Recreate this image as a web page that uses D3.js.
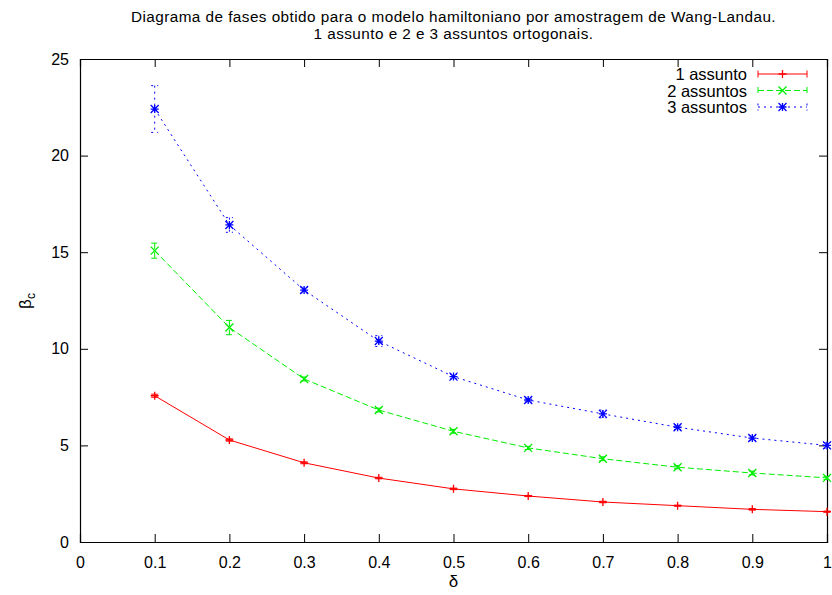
<!DOCTYPE html>
<html>
<head>
<meta charset="utf-8">
<script src="https://cdn.jsdelivr.net/npm/d3@7"></script>
<style>
  body { margin: 0; background: #fff; }
  text { font-family: "Liberation Sans", Arial, sans-serif; fill: #000; }
</style>
</head>
<body>
<div id="chart"></div>
<script>
const deltas = [0.1, 0.2, 0.3, 0.4, 0.5, 0.6, 0.7, 0.8, 0.9, 1.0];

const beta1 = [7.57, 5.28, 4.10, 3.31, 2.75, 2.38, 2.07, 1.88, 1.69, 1.57];
const err1 = [0.08, 0.06, 0.05, 0.04, 0.04, 0.03, 0.04, 0.03, 0.04, 0.03];

const beta2 = [15.08, 11.10, 8.44, 6.83, 5.73, 4.87, 4.31, 3.87, 3.57, 3.32];
const err2 = [0.39, 0.37, 0.10, 0.10, 0.10, 0.08, 0.10, 0.08, 0.10, 0.08];

const beta3 = [22.41, 16.41, 13.04, 10.40, 8.56, 7.35, 6.63, 5.94, 5.38, 5.00];
const err3 = [1.21, 0.38, 0.14, 0.28, 0.12, 0.10, 0.20, 0.12, 0.12, 0.15];

const seriesNames = ['1 assunto', '2 assuntos', '3 assuntos'];
const xTicks = [0, 0.1, 0.2, 0.3, 0.4, 0.5, 0.6, 0.7, 0.8, 0.9, 1];
const yTicks = [0, 5, 10, 15, 20, 25];
const titleLines = [
    'Diagrama de fases obtido para o modelo hamiltoniano por amostragem de Wang-Landau.',
    '1 assunto e 2 e 3 assuntos ortogonais.'
];

const width = 832;
const height = 595;
const margin = { top: 59, right: 5, bottom: 53, left: 80 };
const tickLen = 8;
const cap = 3.5;

const styles = [
    { color: '#ff0000', dash: null, symbol: 'plus' },
    { color: '#00ee00', dash: '6,3', symbol: 'cross' },
    { color: '#0000ff', dash: '2,4', symbol: 'star' }
];

const series = [
    { name: seriesNames[0], values: beta1, errors: err1 },
    { name: seriesNames[1], values: beta2, errors: err2 },
    { name: seriesNames[2], values: beta3, errors: err3 }
];

const chartWidth = width - margin.left - margin.right;
const chartHeight = height - margin.top - margin.bottom;

const x = d3.scaleLinear().domain([0, 1]).range([0, chartWidth]);
const y = d3.scaleLinear().domain([0, 25]).range([chartHeight, 0]);

const svg = d3.select('#chart')
  .append('svg')
    .attr('width', width)
    .attr('height', height);

// title
svg.append('g').selectAll('text')
    .data(titleLines)
  .enter().append('text')
    .attr('x', margin.left + chartWidth / 2)
    .attr('y', function (d, i) { return 22 + i * 16.5; })
    .attr('text-anchor', 'middle')
    .style('font-size', '15.3px')
    .style('letter-spacing', '0.45px')
    .text(function (d) { return d; });

const g = svg.append('g')
    .attr('transform', `translate(${margin.left}, ${margin.top})`);

// axes with mirrored inward ticks
g.append('g')
    .attr('transform', `translate(0, ${chartHeight})`)
    .call(d3.axisBottom(x).tickValues(xTicks).tickSize(-tickLen).tickPadding(tickLen + 7)
        .tickFormat(function (d) { return d3.format('')(d); }));
g.append('g')
    .call(d3.axisTop(x).tickValues(xTicks).tickSize(-tickLen).tickFormat(''));
g.append('g')
    .call(d3.axisLeft(y).tickValues(yTicks).tickSize(-tickLen).tickPadding(tickLen + 3));
g.append('g')
    .attr('transform', `translate(${chartWidth}, 0)`)
    .call(d3.axisRight(y).tickValues(yTicks).tickSize(-tickLen).tickFormat(''));

g.selectAll('.domain').attr('stroke', '#000').attr('stroke-width', 1.2);
g.selectAll('.tick line').attr('stroke', '#000');
g.selectAll('.tick text').style('font-size', '16px')
    .style('font-family', '"Liberation Sans", Arial, sans-serif');

// the border already covers the corner ticks
g.selectAll('.tick')
    .filter(function (d) { return d === 0 || d === 1 || d === 25; })
    .select('line').remove();

// axis labels
svg.append('text')
    .attr('x', margin.left + chartWidth / 2)
    .attr('y', 587)
    .attr('text-anchor', 'middle')
    .style('font-size', '17px')
    .text('δ');

const yl = svg.append('text')
    .attr('transform', 'translate(31, 301) rotate(-90)')
    .attr('text-anchor', 'middle')
    .style('font-size', '17px');
yl.append('tspan').text('β');
yl.append('tspan').attr('dy', 4).style('font-size', '12px').text('c');

function symbolPath(type, cx, cy, r) {
    const p = d3.path();
    if (type === 'plus' || type === 'star') {
        p.moveTo(cx - r, cy); p.lineTo(cx + r, cy);
        p.moveTo(cx, cy - r); p.lineTo(cx, cy + r);
    }
    if (type === 'cross' || type === 'star') {
        p.moveTo(cx - r, cy - r); p.lineTo(cx + r, cy + r);
        p.moveTo(cx - r, cy + r); p.lineTo(cx + r, cy - r);
    }
    return p.toString();
}

const line = d3.line()
    .x(function (d) { return x(d[0]); })
    .y(function (d) { return y(d[1]); });

series.forEach(function (s, k) {
    const st = styles[k];
    const pts = deltas.map(function (d, i) { return [d, s.values[i], s.errors[i]]; });
    const sg = g.append('g');

    sg.append('path')
        .datum(pts)
        .attr('d', line)
        .attr('fill', 'none')
        .attr('stroke', st.color)
        .attr('stroke-width', 1)
        .attr('stroke-dasharray', st.dash);

    // error bars
    sg.selectAll('.err')
        .data(pts)
      .enter().append('path')
        .attr('d', function (d) {
            const px = x(d[0]);
            const top = y(d[1] + d[2]);
            const bot = y(d[1] - d[2]);
            return `M${px},${top}V${bot}M${px - cap},${top}H${px + cap}M${px - cap},${bot}H${px + cap}`;
        })
        .attr('fill', 'none')
        .attr('stroke', st.color)
        .attr('stroke-width', 1)
        .attr('stroke-dasharray', st.dash);

    // points
    sg.selectAll('.pt')
        .data(pts)
      .enter().append('path')
        .attr('d', function (d) { return symbolPath(st.symbol, x(d[0]), y(d[1]), 4); })
        .attr('stroke', st.color)
        .attr('stroke-width', 1.3);

    // legend
    const ly = 74 + k * 16.5;
    svg.append('text')
        .attr('x', 747)
        .attr('y', ly + 6)
        .attr('text-anchor', 'end')
        .style('font-size', '16.5px')
        .text(s.name);
    svg.append('path')
        .attr('d', `M758,${ly}H807M758,${ly - 3.5}V${ly + 3.5}M807,${ly - 3.5}V${ly + 3.5}`)
        .attr('fill', 'none')
        .attr('stroke', st.color)
        .attr('stroke-width', 1)
        .attr('stroke-dasharray', st.dash);
    svg.append('path')
        .attr('d', symbolPath(st.symbol, 782.5, ly, 4))
        .attr('stroke', st.color)
        .attr('stroke-width', 1.3);
});
</script>
</body>
</html>
